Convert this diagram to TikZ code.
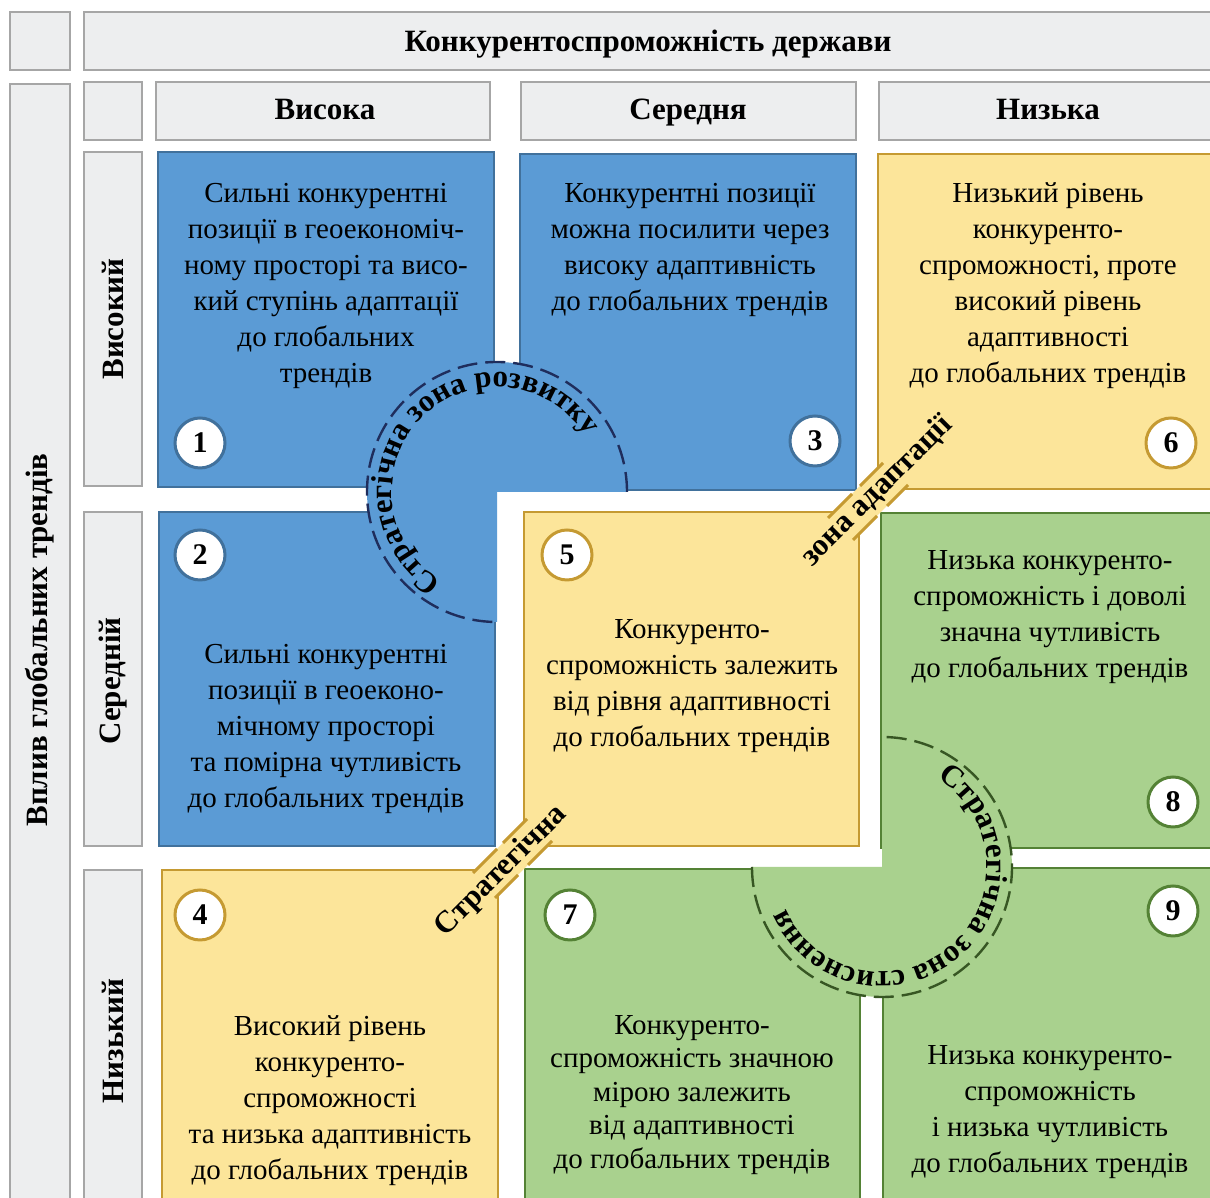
\documentclass[tikz,border=0pt]{standalone}
\usepackage{fontspec}
\setmainfont{Liberation Serif}
\usetikzlibrary{decorations.text}
\definecolor{blueF}{HTML}{5B9BD5}
\definecolor{blueD}{HTML}{41719C}
\definecolor{navyD}{HTML}{1F2D5C}
\definecolor{yelF}{HTML}{FCE59A}
\definecolor{yelD}{HTML}{C59A32}
\definecolor{greF}{HTML}{A9D18E}
\definecolor{greD}{HTML}{548235}
\definecolor{greDash}{HTML}{375623}
\definecolor{grayF}{HTML}{EDEEEF}
\definecolor{grayD}{HTML}{A6A6A6}
\begin{document}
\begin{tikzpicture}[x=0.5pt,y=0.5pt,
  hdr/.style={fill=grayF, draw=grayD, line width=1.2pt},
  bcell/.style={fill=blueF, draw=blueD, line width=1pt},
  ycell/.style={fill=yelF, draw=yelD, line width=1pt},
  gcell/.style={fill=greF, draw=greD, line width=1pt},
  txt/.style={align=center, font=\fontsize{14.5}{18}\selectfont, inner sep=0pt},
  htxt/.style={font=\bfseries\fontsize{15.5}{18}\selectfont, inner sep=0pt},
  bandtxt/.style={font=\bfseries\fontsize{15.5}{18}\selectfont, inner sep=0pt, rotate=45},
  num/.style={circle, fill=white, line width=1.5pt, minimum size=25pt, inner sep=0pt, font=\bfseries\fontsize{15}{18}\selectfont},
  zonedash/.style={dashed, dash pattern=on 10pt off 4pt, line width=1.2pt},
  bandedge/.style={draw=yelD, line width=1.5pt}
]
\clip (0,0) rectangle (1210,1198);
\fill[white] (0,0) rectangle (1210,1198);

% header boxes
\draw[hdr] (10,1186) rectangle (70,1128);
\draw[hdr] (84,1186) rectangle (1215,1128);
\draw[hdr] (10,1114) rectangle (70,-10);
\draw[hdr] (84,1116) rectangle (142,1058);
\draw[hdr] (156,1116) rectangle (490,1058);
\draw[hdr] (521,1116) rectangle (856,1058);
\draw[hdr] (879,1116) rectangle (1215,1058);
\draw[hdr] (84,1046) rectangle (142,712);
\draw[hdr] (84,686) rectangle (142,352);
\draw[hdr] (84,328) rectangle (142,-10);

\node[htxt, anchor=base] (title) at (648,1146) {Конкурентоспроможність держави};
\node[htxt, anchor=base] (colA) at (325,1078) {Висока};
\node[htxt, anchor=base] (colB) at (688,1078) {Середня};
\node[htxt, anchor=base] (colC) at (1048,1078) {Низька};
\node[htxt, rotate=90] (side) at (40,558) {Вплив глобальних трендів};
\node[htxt, rotate=90] (rowA) at (113,879) {Високий};
\node[htxt, rotate=90] (rowB) at (113,517) {Середній};
\node[htxt, rotate=90] (rowC) at (113,157) {Низький};

% cells
\draw[bcell] (158,1046) rectangle (494,711);
\draw[bcell] (520,1044) rectangle (856,708);
\draw[ycell] (878,1044) rectangle (1215,709);
\draw[bcell] (159,686) rectangle (495,352);
\draw[ycell] (524,686) rectangle (859,352);
\draw[gcell] (881,685) rectangle (1215,350);
\draw[ycell] (162,328) rectangle (498,-10);
\draw[gcell] (525,329) rectangle (860,-10);
\draw[gcell] (883,330) rectangle (1215,-10);

% development zone
\fill[blueF] (497,706) -- ++(0:130) arc[start angle=0, end angle=270, radius=130] -- cycle;
\draw[zonedash, draw=navyD] (497,706) ++(0:130) arc[start angle=0, end angle=270, radius=130];
\path[decorate, decoration={text along path, text align=center,
  text={|\bfseries\fontsize{15.5}{18}\selectfont|Стратегічна зона розвитку}}]
  (497,706) ++(255:105) arc[start angle=255, end angle=15, radius=105];

% compression zone
\fill[greF] (882,331) -- ++(180:130) arc[start angle=180, end angle=450, radius=130] -- cycle;
\draw[zonedash, draw=greDash] (882,331) ++(180:130) arc[start angle=180, end angle=450, radius=130];
\path[decorate, decoration={text along path, text align=center,
  text={|\bfseries\fontsize{15.5}{18}\selectfont|Стратегічна зона стиснення}}]
  (882,331) ++(95:105) arc[start angle=95, end angle=-193.4, radius=105];

% adaptation band
\fill[yelF] (420,272) -- (443.5,248.5) -- (953.5,758.5) -- (930,782) -- cycle;
\draw[bandedge] (828,680) -- (852,704);
\draw[bandedge] (860,712) -- (883,735);
\draw[bandedge] (853,658) -- (877,682);
\draw[bandedge] (887,692) -- (908,713);
\draw[bandedge] (473,325) -- (497,349);
\draw[bandedge] (503,355) -- (527,379);
\draw[bandedge] (495,300) -- (518,323);
\draw[bandedge] (528,333) -- (552,357);
\node[bandtxt] (band1) at (501.5,327) {Стратегічна};
\node[bandtxt] (band2) at (877,707) {зона адаптації};

% cell texts
\node[txt] (t1) at (326,912) {Сильні конкурентні\\позиції в геоекономіч-\\ному просторі та висо-\\кий ступінь адаптації\\до глобальних\\трендів};
\node[txt] (t3) at (690,948) {Конкурентні позиції\\можна посилити через\\високу адаптивність\\до глобальних трендів};
\node[txt] (t6) at (1048,912) {Низький рівень\\конкуренто-\\спроможності, проте\\високий рівень\\адаптивності\\до глобальних трендів};
\node[txt] (t2) at (326,469) {Сильні конкурентні\\позиції в геоеконо-\\мічному просторі\\та помірна чутливість\\до глобальних трендів};
\node[txt] (t5) at (692,512) {Конкуренто-\\спроможність залежить\\від рівня адаптивності\\до глобальних трендів};
\node[txt] (t8) at (1050,581) {Низька конкуренто-\\спроможність і доволі\\значна чутливість\\до глобальних трендів};
\node[txt] (t4) at (330,97.5) {Високий рівень\\конкуренто-\\спроможності\\та низька адаптивність\\до глобальних трендів};
\node[txt, font=\fontsize{14.5}{16.75}\selectfont] (t7) at (692,103) {Конкуренто-\\спроможність значною\\мірою залежить\\від адаптивності\\до глобальних трендів};
\node[txt] (t9) at (1050,86) {Низька конкуренто-\\спроможність\\і низька чутливість\\до глобальних трендів};

% numbers
\node[num, draw=blueD] (n1) at (200,755) {1};
\node[num, draw=blueD] (n2) at (200,643) {2};
\node[num, draw=blueD] (n3) at (815,757) {3};
\node[num, draw=yelD] (n4) at (200,283) {4};
\node[num, draw=yelD] (n5) at (567,643) {5};
\node[num, draw=yelD] (n6) at (1171,755) {6};
\node[num, draw=greD] (n7) at (570,283) {7};
\node[num, draw=greD] (n8) at (1173,396) {8};
\node[num, draw=greD] (n9) at (1173,287) {9};
\end{tikzpicture}
\end{document}
